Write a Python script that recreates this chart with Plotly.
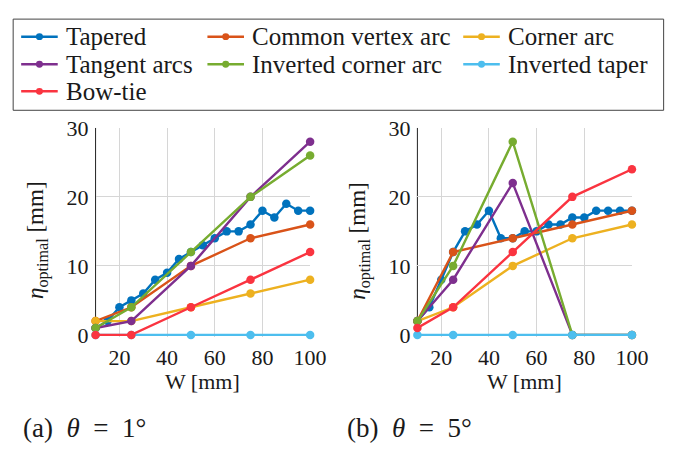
import plotly.graph_objects as go

# ---------------- data ----------------
names = ["Tapered", "Common vertex arc", "Corner arc", "Tangent arcs",
         "Inverted corner arc", "Inverted taper", "Bow-tie"]
colors = ["#0072BD", "#D95319", "#EDB120", "#7E2F8E", "#77AC30", "#4DBEEE", "#FA3440"]

w_fine = [10, 15, 20, 25, 30, 35, 40, 45, 50, 55, 60, 65, 70, 75, 80, 85, 90, 95, 100]
w_coarse = [10, 25, 50, 75, 100]

# theta = 1 deg
a_tapered = [1, 2, 4, 5, 6, 8, 9, 11, 12, 13, 14, 15, 15, 16, 18, 17, 19, 18, 18]
a_common = [2, 4, 10, 14, 16]
a_corner = [2, 2, 4, 6, 8]
a_tangent = [1, 2, 10, 20, 28]
a_invcorner = [1, 4, 12, 20, 26]
a_invtaper = [0, 0, 0, 0, 0]
a_bowtie = [0, 0, 4, 8, 12]

# theta = 5 deg
b_tapered = [2, 4, 8, 12, 15, 16, 18, 14, 14, 15, 15, 16, 16, 17, 17, 18, 18, 18, 18]
b_common = [2, 12, 14, 16, 18]
b_corner = [2, 4, 10, 14, 16]
b_tangent = [2, 8, 22, 0, 0]
b_invcorner = [2, 10, 28, 0, 0]
b_invtaper = [0, 0, 0, 0, 0]
b_bowtie = [1, 4, 12, 20, 24]

x_ticks = [20, 40, 60, 80, 100]
y_ticks = [0, 10, 20, 30]
x_title = "W [mm]"
y_title = "<i>η</i><sub>optimal</sub> [mm]"
captions = ["(a)\u2002<i>θ</i>\u2002=\u20021°", "(b)\u2002<i>θ</i>\u2002=\u20025°"]

FONT = "'Liberation Serif', 'DejaVu Serif', serif"
TXT = "#1a1a1a"
W, H = 686, 457

fig = go.Figure()

panels = [
    ("x", "y", [a_tapered, a_common, a_corner, a_tangent, a_invcorner, a_invtaper, a_bowtie]),
    ("x2", "y2", [b_tapered, b_common, b_corner, b_tangent, b_invcorner, b_invtaper, b_bowtie]),
]
for xa, ya, series in panels:
    for i, vals in enumerate(series):
        xs = w_fine if len(vals) == len(w_fine) else w_coarse
        fig.add_trace(go.Scatter(
            x=xs, y=vals, xaxis=xa, yaxis=ya, mode="lines+markers",
            line=dict(color=colors[i], width=2.4),
            marker=dict(color=colors[i], size=8.5),
            cliponaxis=False, showlegend=False, name=names[i]))

def px(x):
    return x / W

def py(y):
    return 1 - y / H

# y range extends slightly below 0 so the lines at 0 are not clipped
YMIN = -0.25
Y_TOP, Y_ZERO = 122, 340
unit = (Y_ZERO - Y_TOP) / 30.0
y_bottom_px = Y_ZERO + (-YMIN) * unit

axis_common = dict(
    showgrid=True, gridcolor="#d6d6d6", gridwidth=1,
    showline=False, zeroline=False, ticks="",
    tickfont=dict(family=FONT, size=22, color=TXT),
)
PANEL_X = [(98, 318), (428, 648)]
fig.update_layout(
    width=W, height=H, margin=dict(l=0, r=0, t=0, b=0),
    plot_bgcolor="white", paper_bgcolor="white",
    font=dict(family=FONT, color=TXT),
    xaxis=dict(domain=[px(PANEL_X[0][0]), px(PANEL_X[0][1])], range=[10, 100], tickvals=x_ticks,
               anchor="y", ticklabelstandoff=5, **axis_common),
    yaxis=dict(domain=[py(y_bottom_px), py(Y_TOP)], range=[YMIN, 30], tickvals=y_ticks,
               anchor="x", ticklabelstandoff=6, **axis_common),
    xaxis2=dict(domain=[px(PANEL_X[1][0]), px(PANEL_X[1][1])], range=[10, 100], tickvals=x_ticks,
                anchor="y2", ticklabelstandoff=5, **axis_common),
    yaxis2=dict(domain=[py(y_bottom_px), py(Y_TOP)], range=[YMIN, 30], tickvals=y_ticks,
                anchor="x2", ticklabelstandoff=6, **axis_common),
)

shapes = []
annotations = []
# axis lines (left and bottom) drawn beneath the data
for xr, yr in [("x", "y"), ("x2", "y2")]:
    shapes.append(dict(type="line", xref=xr + " domain", yref=yr, x0=0, x1=0, y0=0, y1=30,
                       line=dict(color="#222", width=1), layer="below"))
    shapes.append(dict(type="line", xref=xr + " domain", yref=yr, x0=0, x1=1, y0=0, y1=0,
                       line=dict(color="#222", width=1), layer="below"))

# axis titles
for (x0, x1) in PANEL_X:
    annotations.append(dict(text=x_title, xref="paper", yref="paper",
                            x=px((x0 + x1) / 2), y=py(389), xanchor="center", yanchor="middle",
                            showarrow=False, font=dict(family=FONT, size=22, color=TXT)))
    annotations.append(dict(text=y_title, xref="paper", yref="paper", textangle=-90,
                            x=px(x0 - 59), y=py(241), xanchor="center", yanchor="middle",
                            showarrow=False, font=dict(family=FONT, size=23, color=TXT)))

# legend box
shapes.append(dict(type="rect", xref="paper", yref="paper",
                   x0=px(13.5), x1=px(680.5), y0=py(103.5), y1=py(7.5),
                   line=dict(color="#444", width=1), fillcolor="white"))
col_x = [21.7, 212.7, 475]
row_y = [26, 55, 83.5]
for i, nm in enumerate(names):
    r, c = i // 3, i % 3
    x0 = col_x[c]
    yy = row_y[r]
    shapes.append(dict(type="line", xref="paper", yref="paper",
                       x0=px(x0), x1=px(x0 + 37.5), y0=py(yy), y1=py(yy),
                       line=dict(color=colors[i], width=2.4)))
    shapes.append(dict(type="circle", xref="paper", yref="paper",
                       x0=px(x0 + 18.75 - 3.6), x1=px(x0 + 18.75 + 3.6),
                       y0=py(yy + 3.6), y1=py(yy - 3.6),
                       fillcolor=colors[i], line=dict(color=colors[i], width=0)))
    annotations.append(dict(text=nm, xref="paper", yref="paper", x=px(x0 + 44), y=py(yy),
                            xanchor="left", yanchor="middle", showarrow=False,
                            font=dict(family=FONT, size=25, color=TXT)))

for cap, cx in zip(captions, [22, 354]):
    annotations.append(dict(text=cap, xref="paper", yref="paper", x=px(cx), y=py(438),
                            xanchor="left", yanchor="middle", showarrow=False,
                            font=dict(family=FONT, size=27, color=TXT)))

fig.update_layout(shapes=shapes, annotations=annotations)
fig.write_html("out.html")
